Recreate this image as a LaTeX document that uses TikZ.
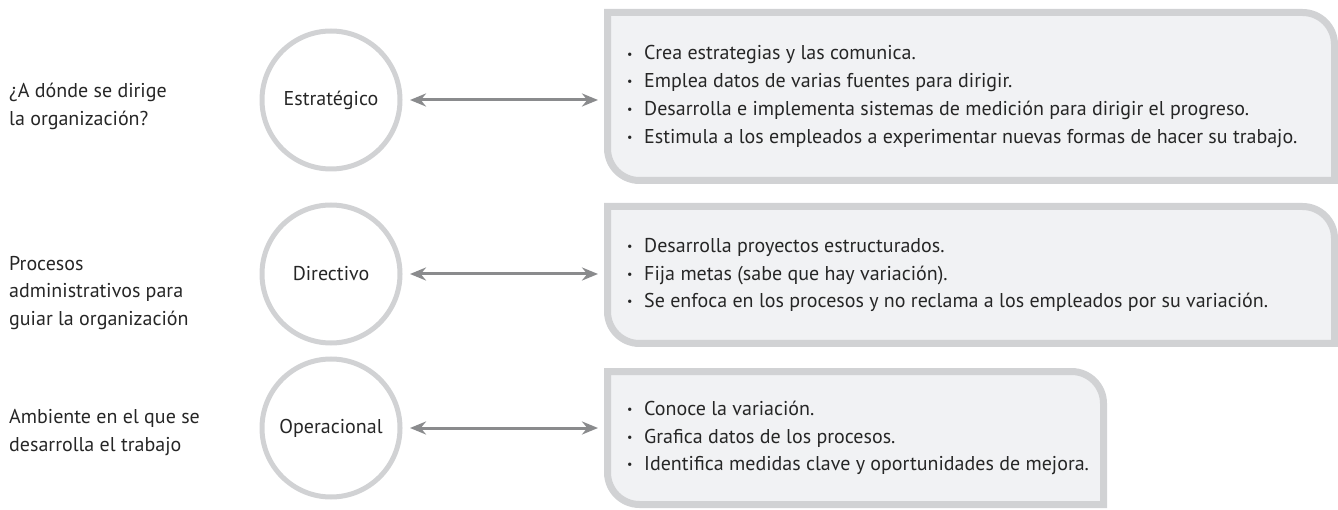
\documentclass[tikz,border=0pt]{standalone}
\usepackage{fontspec}
\setmainfont{PT Sans}
\usetikzlibrary{arrows.meta,positioning}
\definecolor{ringgray}{HTML}{D1D2D4}
\definecolor{cardfill}{HTML}{F1F2F4}
\definecolor{arrowgray}{HTML}{8A8B8D}
\definecolor{inkgray}{HTML}{262626}
\newcommand{\bul}{\makebox[17pt][l]{\raisebox{1.8pt}{\fontsize{12}{12}\selectfont\textbullet}}}
\tikzset{
  tier/.style={circle, draw=ringgray, line width=5pt, minimum size=138pt, inner sep=0pt, text=inkgray},
  card/.style={rectangle, inner sep=0pt, outer sep=0pt},
  cardline/.style={draw=ringgray, fill=cardfill, line width=7pt},
  question/.style={anchor=west, align=left, text=inkgray, inner sep=0pt},
  bullets/.style={anchor=west, align=left, text=inkgray, inner sep=0pt},
  link/.style={<->, draw=arrowgray, line width=3pt, shorten <=7.5pt, shorten >=9.5pt}
}
\begin{document}
\begin{tikzpicture}[x=1pt, y=-1pt, >={Stealth[length=16pt,width=13pt]}, font=\fontsize{20}{27.7}\selectfont]
\useasboundingbox (0,0) rectangle (1338,510);

% levels
\node[tier] (c1) at (331,100) {Estratégico};
\node[tier] (c2) at (331,274) {Directivo};
\node[tier] (c3) at (331,428) {Operacional};

% questions on the left
\node[question] (q1) at (9,106.5) {¿A dónde se dirige\\la organización?};
\node[question] (q2) at (9,293) {Procesos\\administrativos para\\guiar la organización};
\node[question] (q3) at (9,432.5) {Ambiente en el que se\\desarrolla el trabajo};

% cards
\node[card, minimum width=727pt, minimum height=168pt] (b1) at (971,96.5) {};
\node[card, minimum width=727pt, minimum height=137pt] (b2) at (971,275) {};
\node[card, minimum width=496pt, minimum height=133pt] (b3) at (855.5,438) {};
\foreach \b in {b1,b2,b3}
  \draw[cardline] (\b.north west) -- ([xshift=-32pt]\b.north east)
    arc[start angle=270, end angle=360, radius=32] -- (\b.south east)
    -- ([xshift=32pt]\b.south west) arc[start angle=90, end angle=180, radius=32] -- cycle;

\node[bullets] (t1) at ([xshift=19.5pt]b1.west) {\bul Crea estrategias y las comunica.\\
  \bul Emplea datos de varias fuentes para dirigir.\\
  \bul Desarrolla e implementa sistemas de medición para dirigir el progreso.\\
  \bul Estimula a los empleados a experimentar nuevas formas de hacer su trabajo.};
\node[bullets] (t2) at ([xshift=19.5pt]b2.west) {\bul Desarrolla proyectos estructurados.\\
  \bul Fija metas (sabe que hay variación).\\
  \bul Se enfoca en los procesos y no reclama a los empleados por su variación.};
\node[bullets] (t3) at ([xshift=19.5pt]b3.west) {\bul Conoce la variación.\\
  \bul Grafica datos de los procesos.\\
  \bul Identifica medidas clave y oportunidades de mejora.};

% arrows
\draw[link] (c1) -- (c1 -| b1.west);
\draw[link] (c2) -- (c2 -| b2.west);
\draw[link] (c3) -- (c3 -| b3.west);
\end{tikzpicture}
\end{document}
